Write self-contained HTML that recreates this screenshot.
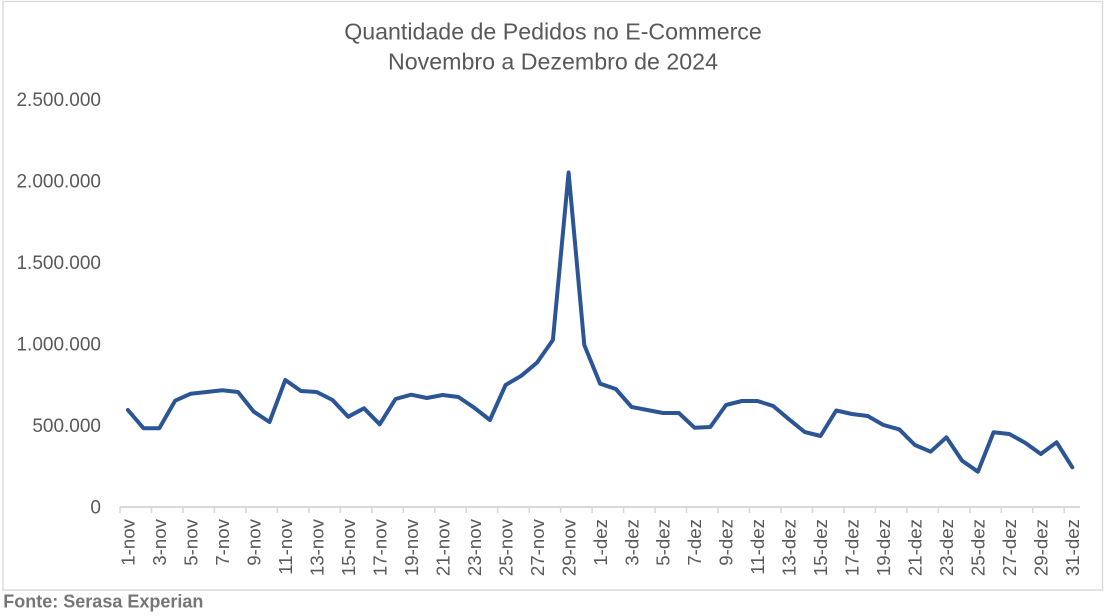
<!DOCTYPE html>
<html>
<head>
<meta charset="utf-8">
<style>
html,body{margin:0;padding:0;background:#fff;}
svg{display:block;}
text{font-family:"Liberation Sans",Arial,sans-serif;}
</style>
</head>
<body>
<svg width="1106" height="616" viewBox="0 0 1106 616" xmlns="http://www.w3.org/2000/svg">
<rect x="0" y="0" width="1106" height="616" fill="#fff"/>
<rect x="3" y="1.5" width="1099.5" height="588.5" fill="none" stroke="#d9d9d9" stroke-width="1.4"/>

<text x="553" y="39.3" font-size="23.2" fill="#595959" text-anchor="middle">Quantidade de Pedidos no E-Commerce</text>
<text x="553" y="69.3" font-size="23.2" fill="#595959" text-anchor="middle">Novembro a Dezembro de 2024</text>

<g font-size="19" fill="#595959" text-anchor="end">
<text x="101" y="106">2.500.000</text>
<text x="101" y="187.5">2.000.000</text>
<text x="101" y="269">1.500.000</text>
<text x="101" y="350.5">1.000.000</text>
<text x="101" y="432">500.000</text>
<text x="101" y="513.5">0</text>
</g>

<line x1="120" y1="507" x2="1080" y2="507" stroke="#d9d9d9" stroke-width="2"/>
<path d="M120,507v6 M151.5,507v6 M183,507v6 M214.4,507v6 M245.9,507v6 M277.4,507v6 M308.9,507v6 M340.3,507v6 M371.8,507v6 M403.3,507v6 M434.8,507v6 M466.2,507v6 M497.7,507v6 M529.2,507v6 M560.7,507v6 M592.1,507v6 M623.6,507v6 M655.1,507v6 M686.5,507v6 M718,507v6 M749.5,507v6 M781,507v6 M812.4,507v6 M843.9,507v6 M875.4,507v6 M906.9,507v6 M938.3,507v6 M969.8,507v6 M1001.3,507v6 M1032.8,507v6 M1064.2,507v6" stroke="#d9d9d9" stroke-width="1.6" fill="none"/>

<g font-size="18.7" fill="#595959" text-anchor="end">
<text transform="translate(134.6,519) rotate(-90)">1-nov</text>
<text transform="translate(166,519) rotate(-90)">3-nov</text>
<text transform="translate(197.5,519) rotate(-90)">5-nov</text>
<text transform="translate(229,519) rotate(-90)">7-nov</text>
<text transform="translate(260.5,519) rotate(-90)">9-nov</text>
<text transform="translate(292,519) rotate(-90)">11-nov</text>
<text transform="translate(323.4,519) rotate(-90)">13-nov</text>
<text transform="translate(354.9,519) rotate(-90)">15-nov</text>
<text transform="translate(386.4,519) rotate(-90)">17-nov</text>
<text transform="translate(417.9,519) rotate(-90)">19-nov</text>
<text transform="translate(449.4,519) rotate(-90)">21-nov</text>
<text transform="translate(480.9,519) rotate(-90)">23-nov</text>
<text transform="translate(512.3,519) rotate(-90)">25-nov</text>
<text transform="translate(543.8,519) rotate(-90)">27-nov</text>
<text transform="translate(575.3,519) rotate(-90)">29-nov</text>
<text transform="translate(606.8,519) rotate(-90)">1-dez</text>
<text transform="translate(638.3,519) rotate(-90)">3-dez</text>
<text transform="translate(669.7,519) rotate(-90)">5-dez</text>
<text transform="translate(701.2,519) rotate(-90)">7-dez</text>
<text transform="translate(732.7,519) rotate(-90)">9-dez</text>
<text transform="translate(764.2,519) rotate(-90)">11-dez</text>
<text transform="translate(795.7,519) rotate(-90)">13-dez</text>
<text transform="translate(827.2,519) rotate(-90)">15-dez</text>
<text transform="translate(858.6,519) rotate(-90)">17-dez</text>
<text transform="translate(890.1,519) rotate(-90)">19-dez</text>
<text transform="translate(921.6,519) rotate(-90)">21-dez</text>
<text transform="translate(953.1,519) rotate(-90)">23-dez</text>
<text transform="translate(984.6,519) rotate(-90)">25-dez</text>
<text transform="translate(1016,519) rotate(-90)">27-dez</text>
<text transform="translate(1047.5,519) rotate(-90)">29-dez</text>
<text transform="translate(1079,519) rotate(-90)">31-dez</text>
</g>

<polyline fill="none" stroke="#2B5595" stroke-width="4" stroke-linejoin="round" stroke-linecap="round" points="
127.9,410 143.6,428.3 159.3,428.3 175.1,400.7 190.8,393.7 206.6,392 222.3,390.3 238.0,392 253.8,411.7 269.5,422
285.3,380 301.0,391 316.7,392 332.5,400 348.2,416.7 364.0,408.3 379.7,424.3 395.5,399 411.2,394.7 426.9,398
442.7,395 458.4,397 474.2,407.7 489.9,420 505.6,385 521.4,375.7 537.1,362.5 552.9,340 568.6,172.5 584.3,345
600.1,383.7 615.8,389 631.6,407 647.3,410 663.0,413 678.8,413 694.5,427.7 710.3,427 726.0,405 741.8,401
757.5,401 773.2,406 789.0,419.3 804.7,432 820.5,436 836.2,410.5 851.9,414 867.7,416 883.4,425 899.2,429.3
914.9,445 930.6,451.7 946.4,437.3 962.1,460.7 977.9,471.7 993.6,432.3 1009.3,434 1025.1,442.7 1040.8,454 1056.6,442.3
1072.3,467.3"/>

<text x="3.3" y="607.6" font-size="18" font-weight="bold" fill="#767676">Fonte: Serasa Experian</text>
</svg>
</body>
</html>
